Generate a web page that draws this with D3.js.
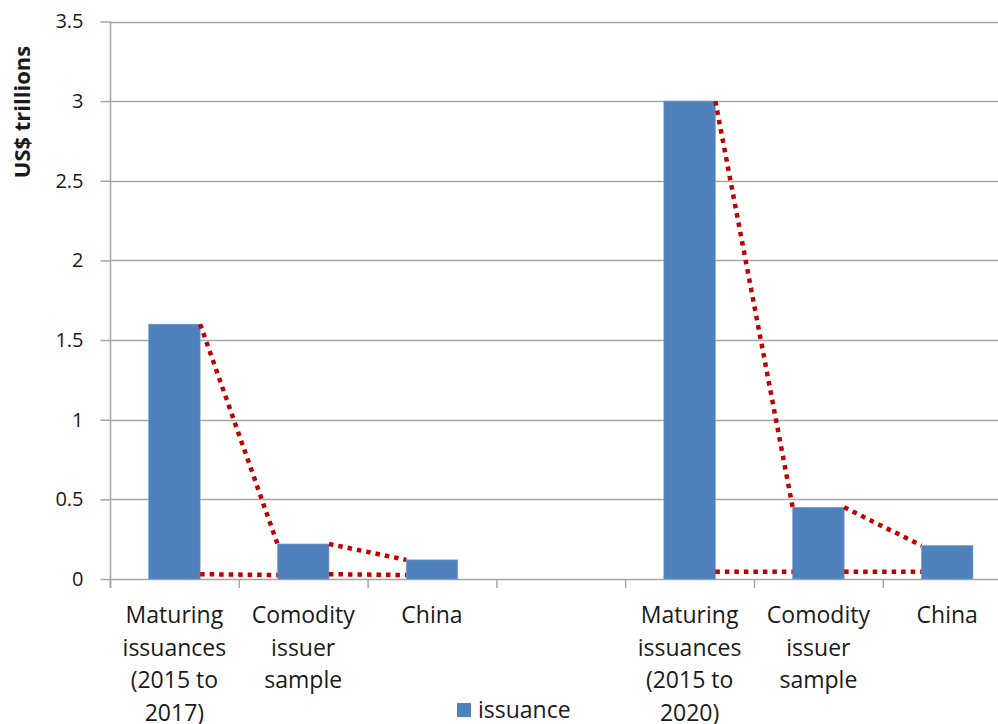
<!DOCTYPE html>
<html>
<head>
<meta charset="utf-8">
<script src="https://cdn.jsdelivr.net/npm/d3@7"></script>
<style>
  html, body { margin: 0; padding: 0; background: #fff; }
  svg { display: block; }
  text { font-family: "Open Sans", "Noto Sans", sans-serif; fill: #1a1a1a; }
</style>
</head>
<body>
<svg id="chart" width="998" height="724"></svg>
<script>
// ---- data ----
const categories = [
  ["Maturing", "issuances", "(2015 to", "2017)"],
  ["Comodity", "issuer", "sample"],
  ["China"],
  [],
  ["Maturing", "issuances", "(2015 to", "2020)"],
  ["Comodity", "issuer", "sample"],
  ["China"]
];
const issuance = [1.6, 0.22, 0.12, null, 3.0, 0.45, 0.21];
const topLinks = [[0, 1], [1, 2], [4, 5], [5, 6]];
const baseLinkValues = [[0.03, 0.025], [0.03, 0.025], [0.045, 0.045], [0.045, 0.045]];
const yTicks = [0, 0.5, 1, 1.5, 2, 2.5, 3, 3.5];
const seriesName = "issuance";
const yTitle = "US$ trillions";

// ---- layout ----
const svg = d3.select("#chart");
const plotLeft = 110, plotBottom = 579, plotTop = 21.5;
const step = 128.8;
const plotRight = plotLeft + step * categories.length;

const x = d3.scaleBand()
  .domain(d3.range(categories.length))
  .range([plotLeft, plotRight])
  .paddingInner(0.6)
  .paddingOuter(0.3);

const y = d3.scaleLinear().domain([0, 3.5]).range([plotBottom, plotTop]);

const gridColor = "#a6a6a6";

// gridlines
svg.append("g").selectAll("line")
  .data(yTicks.filter(d => d > 0))
  .join("line")
  .attr("x1", plotLeft).attr("x2", 998)
  .attr("y1", d => Math.round(y(d)) + 0.5).attr("y2", d => Math.round(y(d)) + 0.5)
  .attr("stroke", gridColor).attr("stroke-width", 1.5);

// y axis
const yAxis = d3.axisLeft(y).tickValues(yTicks).tickSize(10).tickPadding(17)
  .tickFormat(d => d3.format("~g")(d));
const gy = svg.append("g").attr("transform", `translate(${plotLeft + 0.5},0)`).call(yAxis);
gy.select(".domain").attr("stroke", gridColor).attr("stroke-width", 1.5)
  .attr("d", `M0,${plotTop}V${plotBottom + 9}`);
gy.selectAll(".tick line").attr("stroke", gridColor).attr("stroke-width", 1.5);
gy.selectAll(".tick text").attr("font-size", 20).attr("fill", "#1a1a1a")
  .attr("font-family", "'Open Sans', sans-serif");

// x axis baseline and boundary ticks
svg.append("line").attr("x1", plotLeft).attr("x2", 998)
  .attr("y1", plotBottom + 0.5).attr("y2", plotBottom + 0.5)
  .attr("stroke", gridColor).attr("stroke-width", 1.5);
const boundary = i => plotLeft + i * x.step();
svg.append("g").selectAll("line")
  .data(d3.range(categories.length + 1))
  .join("line")
  .attr("x1", i => boundary(i) + 0.5)
  .attr("x2", i => boundary(i) + 0.5)
  .attr("y1", plotBottom).attr("y2", plotBottom + 9)
  .attr("stroke", gridColor).attr("stroke-width", 1.5);

// bars
svg.append("g").selectAll("rect")
  .data(issuance.map((v, i) => ({ v, i })).filter(d => d.v != null))
  .join("rect")
  .attr("x", d => x(d.i))
  .attr("width", x.bandwidth())
  .attr("y", d => y(d.v))
  .attr("height", d => y(0) - y(d.v))
  .attr("fill", "#4f81bd")
  .attr("stroke", "#7a9fd0").attr("stroke-width", 0.6);

// connector dotted lines
const red = "#c00000";
const lg = svg.append("g").attr("fill", "none").attr("stroke", red)
  .attr("stroke-width", 4.5).attr("stroke-dasharray", "4.5,5");
lg.selectAll("line.top")
  .data(topLinks)
  .join("line").attr("class", "top")
  .attr("x1", d => x(d[0]) + x.bandwidth())
  .attr("y1", d => y(issuance[d[0]]))
  .attr("x2", d => x(d[1]))
  .attr("y2", d => y(issuance[d[1]]));
lg.selectAll("line.base")
  .data(topLinks.map((d, k) => ({ d, v: baseLinkValues[k] })))
  .join("line").attr("class", "base")
  .attr("x1", o => x(o.d[0]) + x.bandwidth())
  .attr("y1", o => y(o.v[0]))
  .attr("x2", o => x(o.d[1]))
  .attr("y2", o => y(o.v[1]));

// category labels
const lab = svg.append("g").selectAll("text")
  .data(categories.map((lines, i) => ({ lines, i })))
  .join("text")
  .attr("text-anchor", "middle")
  .attr("font-size", 23)
  .attr("x", d => x(d.i) + x.bandwidth() / 2)
  .attr("y", 623);
lab.selectAll("tspan")
  .data(d => d.lines.map(l => ({ l, cx: x(d.i) + x.bandwidth() / 2 })))
  .join("tspan")
  .attr("x", t => t.cx)
  .attr("dy", (t, j) => j === 0 ? 0 : 32.5)
  .text(t => t.l);

// y title
svg.append("text")
  .attr("transform", "translate(30,112) rotate(-90)")
  .attr("text-anchor", "middle")
  .attr("font-size", 22)
  .attr("font-weight", "bold")
  .attr("fill", "#000")
  .text(yTitle);

// legend
svg.append("rect").attr("x", 457).attr("y", 703).attr("width", 14).attr("height", 14)
  .attr("fill", "#4f81bd");
svg.append("text").attr("x", 478).attr("y", 718).attr("font-size", 23).text(seriesName);
</script>
</body>
</html>
